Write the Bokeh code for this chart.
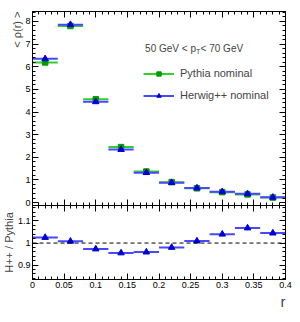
from bokeh.plotting import figure
from bokeh.models import (Range1d, LinearAxis, SingleIntervalTicker, Span, Legend,
                          LegendItem, Label, Title, CustomJSTickFormatter)
from bokeh.layouts import column
from bokeh.embed import file_html
from bokeh.resources import INLINE

# ---- data ----
r_centers = [0.02, 0.06, 0.10, 0.14, 0.18, 0.22, 0.26, 0.30, 0.34, 0.38]
bin_half = 0.02
pythia = [6.19, 7.80, 4.56, 2.45, 1.37, 0.90, 0.63, 0.46, 0.36, 0.22]
herwig = [6.35, 7.86, 4.45, 2.34, 1.32, 0.88, 0.64, 0.48, 0.385, 0.23]
ratio = [1.025, 1.008, 0.973, 0.955, 0.959, 0.980, 1.009, 1.040, 1.068, 1.045]

r_lo = [c - bin_half for c in r_centers]
r_hi = [c + bin_half for c in r_centers]

FONT = "Liberation Sans"
GREEN_LINE = "#33cc33"
GREEN_MK = "#009900"
BLUE_LINE = "#4848ff"
BLUE_MK = "#0000cc"

W = 300
LEFT = 29
RIGHT = 15

fmt = CustomJSTickFormatter(code="return tick.toFixed(2).replace(/0+$/,'').replace(/\\.$/,'');")


def add_axis(p, side, interval, labels, formatter=None):
    ax = LinearAxis(ticker=SingleIntervalTicker(interval=interval, num_minor_ticks=5))
    ax.major_tick_in = 6
    ax.major_tick_out = 0
    ax.minor_tick_in = 3
    ax.minor_tick_out = 0
    ax.axis_line_color = "black"
    ax.major_tick_line_color = "black"
    ax.minor_tick_line_color = "black"
    ax.major_label_text_font = FONT
    ax.major_label_text_font_size = "9px"
    ax.major_label_text_color = "black"
    if labels:
        ax.major_label_standoff = 2
        if formatter is not None:
            ax.formatter = formatter
    else:
        ax.major_label_standoff = 0
        ax.formatter = CustomJSTickFormatter(code="return '';")
    p.add_layout(ax, side)
    return ax


# ---- top panel ----
p1 = figure(width=W, height=210, x_range=Range1d(0, 0.4), y_range=Range1d(-0.13, 8.44),
            output_backend="svg", toolbar_location=None,
            x_axis_location=None, y_axis_location=None,
            min_border_left=LEFT, min_border_right=RIGHT, min_border_top=11, min_border_bottom=5)
p1.grid.visible = False
p1.outline_line_color = "black"

add_axis(p1, "left", 1, True)
add_axis(p1, "right", 1, False)
add_axis(p1, "above", 0.05, False)
add_axis(p1, "below", 0.05, False)
p1.add_layout(Title(text="< ρ(r) >", align="right", text_font=FONT, text_font_size="11px",
                    text_font_style="normal", standoff=0, offset=0), "left")

g_seg = p1.segment(x0=r_lo, y0=pythia, x1=r_hi, y1=pythia, line_color=GREEN_LINE, line_width=2)
g_sc = p1.scatter(x=r_centers, y=pythia, marker="square", size=5.5,
                  fill_color=GREEN_MK, line_color=GREEN_MK)
b_seg = p1.segment(x0=r_lo, y0=herwig, x1=r_hi, y1=herwig, line_color=BLUE_LINE, line_width=2)
b_sc = p1.scatter(x=r_centers, y=herwig, marker="triangle", size=6.5,
                  fill_color=BLUE_MK, line_color=BLUE_MK)

legend = Legend(items=[LegendItem(label="Pythia nominal", renderers=[g_seg, g_sc]),
                       LegendItem(label="Herwig++ nominal", renderers=[b_seg, b_sc])],
                location=(111, 101), glyph_width=31, glyph_height=11, label_height=18,
                spacing=4, padding=0, margin=0, label_standoff=6,
                border_line_alpha=0, background_fill_alpha=0,
                label_text_font=FONT, label_text_font_size="11px")
p1.add_layout(legend)

p1.add_layout(Label(x=0.178, y=6.81, text="50 GeV < p", text_font=FONT, text_font_size="10px",
                    text_baseline="alphabetic"))
p1.add_layout(Label(x=0.178, y=6.67, x_offset=51, text="T", text_font=FONT, text_font_size="7px",
                    text_baseline="alphabetic"))
p1.add_layout(Label(x=0.178, y=6.81, x_offset=55.5, text=" < 70 GeV", text_font=FONT,
                    text_font_size="10px", text_baseline="alphabetic"))

# ---- ratio panel ----
p2 = figure(width=W, height=117, x_range=p1.x_range, y_range=Range1d(0.835, 1.17),
            output_backend="svg", toolbar_location=None,
            x_axis_location=None, y_axis_location=None,
            min_border_left=LEFT, min_border_right=RIGHT, min_border_top=0, min_border_bottom=43)
p2.grid.visible = False
p2.outline_line_color = "black"
p2.background_fill_alpha = 0
p2.border_fill_alpha = 0
p2.styles = {"margin-top": "-5px"}

add_axis(p2, "left", 0.1, True, fmt)
add_axis(p2, "right", 0.1, False)
add_axis(p2, "above", 0.05, False)
add_axis(p2, "below", 0.05, True, fmt)
p2.add_layout(Title(text="H++ / Pythia", align="center", text_font=FONT, text_font_size="11px",
                    text_font_style="normal", standoff=0, offset=0), "left")
p2.add_layout(Title(text="r", align="right", text_font=FONT, text_font_size="15px",
                    text_font_style="normal", standoff=0, offset=0), "below")

p2.add_layout(Span(location=1.0, dimension="width", line_color="black", line_width=1,
                   line_dash="4 3"))
p2.segment(x0=r_lo, y0=ratio, x1=r_hi, y1=ratio, line_color=BLUE_LINE, line_width=2)
p2.scatter(x=r_centers, y=ratio, marker="triangle", size=6.5, fill_color=BLUE_MK, line_color=BLUE_MK)

layout = column(p1, p2, spacing=0)
open("out.html", "w").write(file_html(layout, INLINE))
